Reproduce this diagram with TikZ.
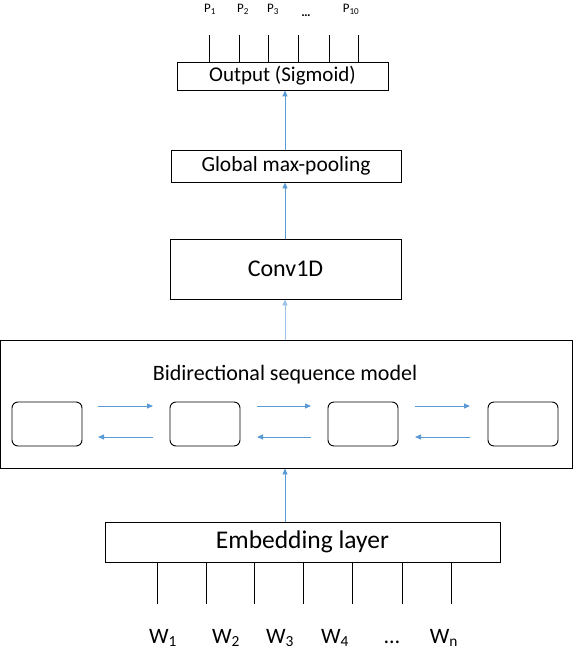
\documentclass[tikz,border=0pt]{standalone}
\usepackage{fontspec}
\setmainfont{Carlito}
\usetikzlibrary{arrows.meta}
\definecolor{arr}{RGB}{91,155,213}
\begin{document}
\begin{tikzpicture}[x=1pt,y=-1pt,
  box/.style={draw,line width=0.9pt,inner sep=0pt},
  cell/.style={draw,line width=0.9pt,rounded corners=6pt,minimum width=70pt,minimum height=44pt,inner sep=0pt},
  flow/.style={draw=arr,line width=0.9pt,-{Triangle[length=6pt,width=5pt]}},
  wire/.style={draw,line width=0.9pt},
  plab/.style={font=\fontsize{13}{15}\selectfont,anchor=base},
  wlab/.style={font=\fontsize{22}{24}\selectfont,anchor=base}]
\useasboundingbox (0,0) rectangle (574,650);
% boxes
\node[box,minimum width=211pt,minimum height=28pt,font=\fontsize{21}{23}\selectfont] (out) at (282.5,76) {Output (Sigmoid)};
\node[box,minimum width=230pt,minimum height=32pt,font=\fontsize{21.5}{23}\selectfont] (gmp) at (286,166) {Global max-pooling};
\node[box,minimum width=231pt,minimum height=60pt,font=\fontsize{24}{26}\selectfont] (conv) at (285.5,269) {Conv1D};
\node[box,minimum width=572pt,minimum height=128pt] (bi) at (286.5,404) {};
\node[font=\fontsize{22}{24}\selectfont] (bit) at (285,375) {Bidirectional sequence model};
\node[box,minimum width=395pt,minimum height=40pt,font=\fontsize{25.5}{27}\selectfont] (emb) at (302.5,542) {Embedding layer};
% cells
\node[cell] (c1) at (47,424) {};
\node[cell] (c2) at (205,424) {};
\node[cell] (c3) at (363,424) {};
\node[cell] (c4) at (523,424) {};
% bidirectional arrows
\foreach \a/\b in {98/153,257/311,415/470}{
  \coordinate (fa) at (\a,406); \coordinate (fb) at (\b,406);
  \coordinate (ba) at (\b,437); \coordinate (bb) at (\a,437);
  \draw[flow] (fa) -- (fb);
  \draw[flow] (ba) -- (bb);
}
% vertical arrows
\draw[flow] (emb.north -| 285,0) -- (bi.south -| 285,0);
\draw[flow,draw=arr!60] (bi.north -| 285,0) -- (conv.south -| 285,0);
\draw[flow] (conv.north -| 285,0) -- (gmp.south -| 285,0);
\draw[flow] (gmp.north -| 285,0) -- (out.south -| 285,0);
% output wires
\foreach \x in {209,239,268,298,329,358}{
  \coordinate (pt\x) at (\x,35);
  \draw[wire] (pt\x) -- (out.north -| \x,0);
}
\node[plab] (p1) at (210,13) {P\textsubscript{1}};
\node[plab] (p2) at (243,13) {P\textsubscript{2}};
\node[plab] (p3) at (273,13) {P\textsubscript{3}};
\node[plab] (pd) at (306,17) {\textbf{\ldots}};
\node[plab] (p10) at (351,13) {P\textsubscript{10}};
% input wires
\foreach \x in {157,206,254,303,352,402,451}{
  \coordinate (wt\x) at (\x,604);
  \draw[wire] (emb.south -| \x,0) -- (wt\x);
}
\foreach \n/\x/\t in {w1/163/W\textsubscript{1},w2/226/W\textsubscript{2},w3/280/W\textsubscript{3},w4/335/W\textsubscript{4},wd/392/{\ldots},wn/444/W\textsubscript{n}}{
  \node[wlab] (\n) at (\x,643) {\t};
}
\end{tikzpicture}
\end{document}
